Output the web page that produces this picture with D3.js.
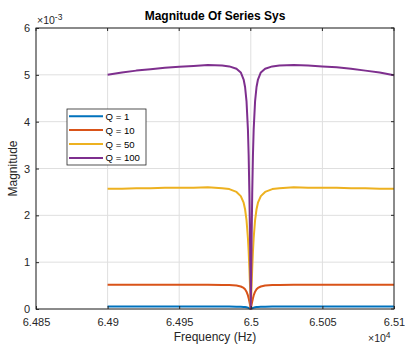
<!DOCTYPE html>
<html>
<head>
<meta charset="utf-8">
<script src="https://cdn.jsdelivr.net/npm/d3@7"></script>
<style>
  html, body { margin: 0; padding: 0; background: #fff; }
  svg { display: block; font-family: "Liberation Sans", Arial, sans-serif; }
</style>
</head>
<body>
<svg id="chart" width="405" height="345"></svg>
<script>
// Frequencies (Hz), shared by every series
const freq = [
  64900, 64910, 64920, 64930, 64940, 64950, 64960, 64970, 64980, 64985,
  64990, 64993, 64995, 64996, 64997, 64998, 64998.5, 64999, 64999.5,
  65000,
  65000.5, 65001, 65001.5, 65002, 65003, 65004, 65005, 65007, 65010,
  65015, 65020, 65030, 65040, 65050, 65060, 65070, 65080, 65090, 65100
];

// Magnitude values in units of 1e-3
const magQ1 = [
  0.052, 0.052, 0.052, 0.052, 0.052, 0.052, 0.052, 0.052, 0.052, 0.052,
  0.050, 0.048, 0.045, 0.042, 0.037, 0.029, 0.024, 0.016, 0.009,
  0,
  0.009, 0.016, 0.024, 0.029, 0.037, 0.042, 0.045, 0.048, 0.050,
  0.052, 0.052, 0.052, 0.052, 0.052, 0.052, 0.052, 0.052, 0.052, 0.052
];
const magQ10 = [
  0.52, 0.52, 0.52, 0.52, 0.52, 0.52, 0.52, 0.52, 0.51, 0.51,
  0.50, 0.48, 0.45, 0.42, 0.37, 0.29, 0.23, 0.16, 0.085,
  0,
  0.085, 0.16, 0.23, 0.29, 0.37, 0.42, 0.45, 0.48, 0.50,
  0.51, 0.51, 0.52, 0.52, 0.52, 0.52, 0.52, 0.52, 0.52, 0.52
];
const magQ50 = [
  2.57, 2.57, 2.58, 2.58, 2.59, 2.59, 2.59, 2.60, 2.58, 2.56,
  2.50, 2.41, 2.27, 2.13, 1.90, 1.51, 1.23, 0.87, 0.46,
  0,
  0.46, 0.87, 1.23, 1.51, 1.90, 2.13, 2.27, 2.41, 2.50,
  2.56, 2.58, 2.60, 2.59, 2.59, 2.59, 2.58, 2.58, 2.57, 2.57
];
const magQ100 = [
  5.00, 5.05, 5.09, 5.12, 5.15, 5.17, 5.19, 5.21, 5.20, 5.18,
  5.13, 5.05, 4.90, 4.74, 4.44, 3.83, 3.29, 2.48, 1.36,
  0,
  1.36, 2.48, 3.29, 3.83, 4.44, 4.74, 4.90, 5.05, 5.13,
  5.18, 5.20, 5.21, 5.20, 5.18, 5.16, 5.13, 5.09, 5.05, 4.99
];

const seriesNames = ['Q = 1', 'Q = 10', 'Q = 50', 'Q = 100'];
const seriesValues = [magQ1, magQ10, magQ50, magQ100];
const seriesColors = ['#0072BD', '#D95319', '#EDB120', '#7E2F8E'];

const xTicks = [64850, 64900, 64950, 65000, 65050, 65100];
const xTickLabels = ['6.485', '6.49', '6.495', '6.5', '6.505', '6.51'];
const yTicks = [0, 1, 2, 3, 4, 5, 6];

const svg = d3.select('#chart');
const margin = { left: 36, right: 11, top: 28, bottom: 36 };
const W = 405, H = 345;
const plotW = W - margin.left - margin.right;
const plotH = H - margin.top - margin.bottom;
const axisColor = '#262626';

const x = d3.scaleLinear().domain([64850, 65100]).range([0, plotW]);
const y = d3.scaleLinear().domain([0, 6]).range([plotH, 0]);

const g = svg.append('g').attr('transform', `translate(${margin.left},${margin.top})`);

// Grid
g.append('g').selectAll('line.gx').data(xTicks).join('line')
  .attr('x1', d => x(d)).attr('x2', d => x(d))
  .attr('y1', 0).attr('y2', plotH)
  .attr('stroke', '#dfdfdf').attr('stroke-width', 1);
g.append('g').selectAll('line.gy').data(yTicks).join('line')
  .attr('x1', 0).attr('x2', plotW)
  .attr('y1', d => y(d)).attr('y2', d => y(d))
  .attr('stroke', '#dfdfdf').attr('stroke-width', 1);

// Lines
const line = d3.line().x((d, i) => x(freq[i])).y(d => y(d));
g.append('g').selectAll('path').data(seriesValues).join('path')
  .attr('d', d => line(d))
  .attr('fill', 'none')
  .attr('stroke', (d, i) => seriesColors[i])
  .attr('stroke-width', 2)
  .attr('stroke-linejoin', 'round');

// Axes (MATLAB style: ticks inward, box)
const xAxis = d3.axisBottom(x).tickValues(xTicks)
  .tickFormat((d, i) => xTickLabels[i]).tickSizeInner(-3).tickSizeOuter(0).tickPadding(9);
const yAxis = d3.axisLeft(y).tickValues(yTicks)
  .tickFormat(d3.format('d')).tickSizeInner(-3).tickSizeOuter(0).tickPadding(6);

const gx = g.append('g').attr('transform', `translate(0,${plotH})`).call(xAxis);
const gy = g.append('g').call(yAxis);
[gx, gy].forEach(a => {
  a.select('.domain').remove();
  a.selectAll('line').attr('stroke', axisColor);
  a.selectAll('text').attr('fill', axisColor).attr('font-size', 11)
    .attr('font-family', '"Liberation Sans", Arial, sans-serif');
});

// top/right ticks
g.append('g').selectAll('line').data(xTicks).join('line')
  .attr('x1', d => x(d)).attr('x2', d => x(d)).attr('y1', 0).attr('y2', 3)
  .attr('stroke', axisColor);
g.append('g').selectAll('line').data(yTicks).join('line')
  .attr('x1', plotW).attr('x2', plotW - 3).attr('y1', d => y(d)).attr('y2', d => y(d))
  .attr('stroke', axisColor);

g.append('rect').attr('width', plotW).attr('height', plotH)
  .attr('fill', 'none').attr('stroke', axisColor).attr('stroke-width', 1);

// Exponent labels
const ex = svg.append('text').attr('x', margin.left + 1).attr('y', 24)
  .attr('font-size', 10.5).attr('fill', axisColor);
ex.append('tspan').text('×10');
ex.append('tspan').attr('dy', -4).attr('font-size', 8.5).text('-3');

const ex2 = svg.append('text').attr('x', 368).attr('y', 342)
  .attr('font-size', 10.5).attr('fill', axisColor);
ex2.append('tspan').text('×10');
ex2.append('tspan').attr('dy', -4).attr('font-size', 8.5).text('4');

// Title and labels
svg.append('text').attr('x', margin.left + plotW / 2).attr('y', 19.5)
  .attr('text-anchor', 'middle').attr('font-size', 12).attr('font-weight', 'bold')
  .attr('fill', '#000').text('Magnitude Of Series Sys');
svg.append('text').attr('x', margin.left + plotW / 2).attr('y', 341)
  .attr('text-anchor', 'middle').attr('font-size', 12).attr('fill', axisColor)
  .text('Frequency (Hz)');
svg.append('text').attr('transform', `translate(17,${margin.top + plotH / 2}) rotate(-90)`)
  .attr('text-anchor', 'middle').attr('font-size', 12).attr('fill', axisColor)
  .text('Magnitude');

// Legend
const lg = svg.append('g').attr('transform', 'translate(67,109)');
lg.append('rect').attr('width', 79).attr('height', 56)
  .attr('fill', '#fff').attr('stroke', '#262626').attr('stroke-width', 0.8);
const items = lg.selectAll('g.item').data(seriesNames).join('g')
  .attr('transform', (d, i) => `translate(0,${7.2 + i * 13.9})`);
items.append('line').attr('x1', 2).attr('x2', 36).attr('y1', 0).attr('y2', 0)
  .attr('stroke', (d, i) => seriesColors[i]).attr('stroke-width', 2);
items.append('text').attr('x', 38.5).attr('y', 3.5).attr('font-size', 9.6)
  .attr('fill', '#000').text(d => d);
</script>
</body>
</html>
